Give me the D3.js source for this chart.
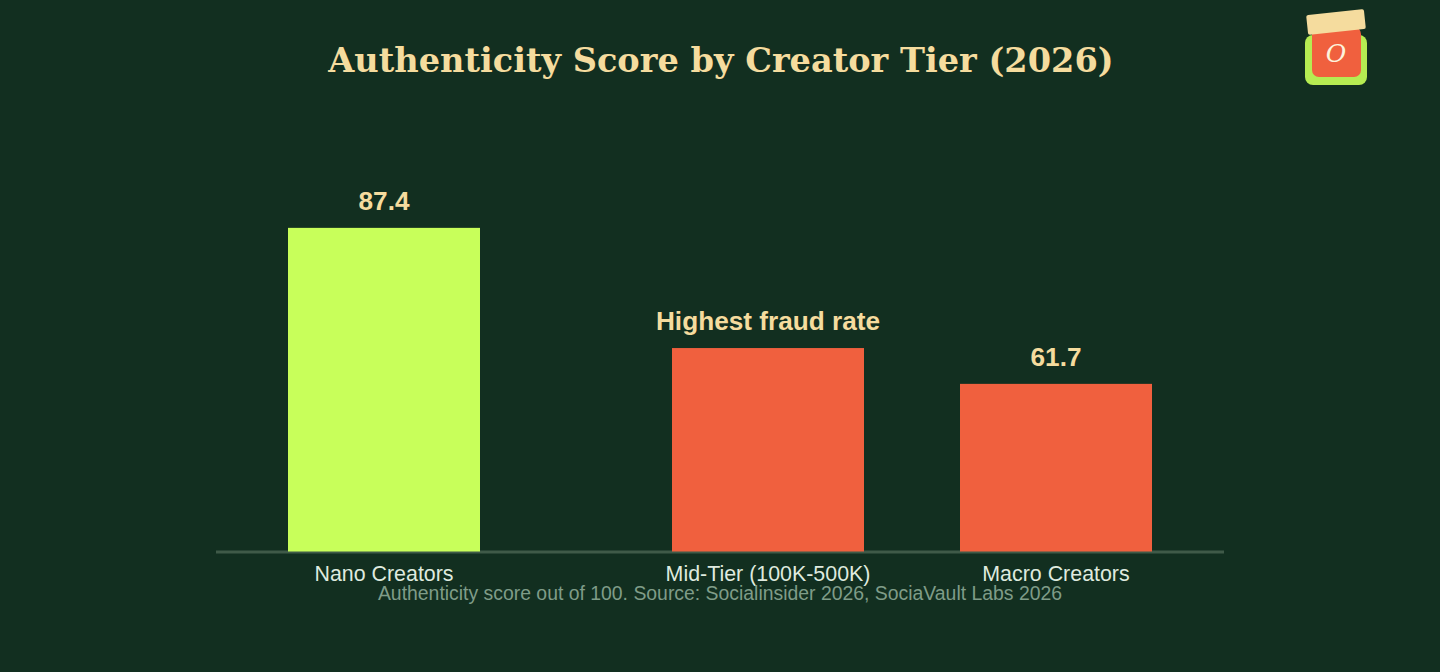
<!DOCTYPE html>
<html>
<head>
<meta charset="utf-8">
<script src="https://cdn.jsdelivr.net/npm/d3@7"></script>
<style>
  html, body { margin: 0; padding: 0; background: #122f20; }
  svg { display: block; }
</style>
</head>
<body>
<svg id="chart" width="1440" height="672"></svg>
<script>
// ---- data ----
const categories = ["Nano Creators", "Mid-Tier (100K-500K)", "Macro Creators"];
const scores = [87.4, 67.6, 61.7];
const valueLabels = ["87.4", "Highest fraud rate", "61.7"];
const barColors = ["#c8ff5a", "#f0603e", "#f0603e"];
const titleText = "Authenticity Score by Creator Tier (2026)";
const sourceText = "Authenticity score out of 100. Source: Socialinsider 2026, SociaVault Labs 2026";

// ---- layout ----
const W = 1440, H = 672;
const plot = { left: 216, right: 1224, base: 552 };
const svg = d3.select("#chart");
svg.append("rect").attr("width", W).attr("height", H).attr("fill", "#122f20");

const x = d3.scaleBand().domain(categories).range([plot.left, plot.right])
  .paddingInner(3 / 7).paddingOuter(3 / 14);
// the highlighted middle group is nudged right in the original layout
const nudge = d => (d === categories[1] ? 48 : 0);
const y = d3.scaleLinear().domain([34, 100]).range([plot.base, plot.base - 66 * 6.07]);

// title
svg.append("text")
  .attr("x", 721).attr("y", 72)
  .attr("text-anchor", "middle")
  .attr("font-family", "'DejaVu Serif', serif")
  .attr("font-weight", "bold")
  .attr("font-size", 33.6)
  .attr("fill", "#f5dc9e")
  .text(titleText);

// axis line
svg.append("line")
  .attr("x1", plot.left).attr("x2", plot.right)
  .attr("y1", plot.base).attr("y2", plot.base)
  .attr("stroke", "#3f5a48").attr("stroke-width", 3);

const data = categories.map((c, i) => ({ c, v: scores[i], label: valueLabels[i], color: barColors[i] }));

svg.selectAll("rect.bar").data(data).join("rect")
  .attr("class", "bar")
  .attr("x", d => x(d.c) + nudge(d.c))
  .attr("y", d => y(d.v))
  .attr("width", x.bandwidth())
  .attr("height", d => y(y.domain()[0]) - y(d.v) - 0.5)
  .attr("fill", d => d.color);

svg.selectAll("text.val").data(data).join("text")
  .attr("class", "val")
  .attr("x", d => x(d.c) + nudge(d.c) + x.bandwidth() / 2)
  .attr("y", d => y(d.v) - 18)
  .attr("text-anchor", "middle")
  .attr("font-family", "'Liberation Sans', Arial, sans-serif")
  .attr("font-weight", "bold")
  .attr("font-size", 26.2)
  .attr("fill", "#f5dc9e")
  .text(d => d.label);

// x axis labels via d3 axis
const axisG = svg.append("g").attr("transform", `translate(0,${plot.base})`)
  .call(d3.axisBottom(x).tickSize(0).tickPadding(0));
axisG.select(".domain").remove();
axisG.selectAll(".tick")
  .attr("transform", d => `translate(${x(d) + nudge(d) + x.bandwidth() / 2},0)`);
axisG.selectAll(".tick text")
  .attr("y", 29).attr("dy", 0)
  .attr("font-family", "'Liberation Sans', Arial, sans-serif")
  .attr("font-size", 21.4)
  .attr("fill", "#dfeadf");

// source note
svg.append("text")
  .attr("x", 720).attr("y", 600)
  .attr("text-anchor", "middle")
  .attr("font-family", "'Liberation Sans', Arial, sans-serif")
  .attr("font-size", 19.4)
  .attr("fill", "#7f9c88")
  .text(sourceText);

// logo
const logo = svg.append("g");
logo.append("rect").attr("x", 1305).attr("y", 35).attr("width", 62).attr("height", 50)
  .attr("rx", 8).attr("fill", "#b6ec52");
logo.append("rect").attr("x", 1312).attr("y", 27).attr("width", 49).attr("height", 50)
  .attr("rx", 7).attr("fill", "#f0603e");
logo.append("rect").attr("x", -29).attr("y", -10).attr("width", 58).attr("height", 20)
  .attr("rx", 2).attr("fill", "#f5dc9e")
  .attr("transform", "translate(1336,22) rotate(-6)");
logo.append("text").attr("x", 1336).attr("y", 62)
  .attr("text-anchor", "middle")
  .attr("font-family", "'DejaVu Serif', serif")
  .attr("font-style", "italic")
  .attr("font-size", 25)
  .attr("fill", "#fdf3dc")
  .text("O");
</script>
</body>
</html>
